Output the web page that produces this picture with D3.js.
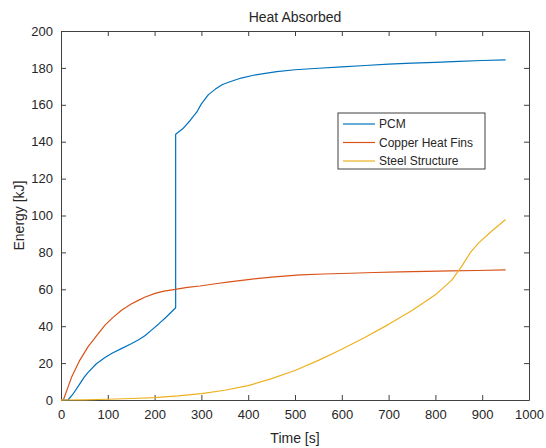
<!DOCTYPE html>
<html>
<head>
  <meta charset="UTF-8">
  <title>Heat Absorbed</title>
  <style>
    body { margin: 0; background: #fff; }
    svg { display: block; }
    text { font-family: "Liberation Sans", Arial, sans-serif; fill: #262626; }
  </style>
</head>
<body>
    <svg></svg>

    <script src="https://d3js.org/d3.v7.min.js"></script>

<script>

// data
let seriesNames = ["PCM", "Copper Heat Fins", "Steel Structure"];

let pcmTime = [0, 15, 25, 37, 50, 58, 75, 94, 110, 130, 150, 165, 180, 194, 210, 225, 245,
               245, 260, 276, 290, 300, 315, 330, 345, 361, 385, 411, 440, 461, 500, 550,
               600, 650, 700, 750, 800, 850, 900, 950];
let pcmEnergy = [0, 0, 3, 7.5, 12.5, 15, 19.5, 23, 25.5, 28, 30.5, 32.5, 35, 38, 41.5, 45, 50,
                 144, 147, 151.5, 156, 160.5, 165.5, 168.5, 171, 172.5, 174.5, 176, 177.2, 178, 179, 179.8,
                 180.6, 181.3, 182, 182.6, 183, 183.5, 184, 184.3];

let copperTime = [0, 5, 15, 23, 40, 58, 75, 94, 110, 130, 150, 165, 180, 201, 220, 244, 270,
                  297, 330, 360, 404, 450, 511, 560, 618, 670, 724, 780, 831, 890, 950];
let copperEnergy = [0, 0, 7, 12.6, 21.5, 28.9, 34.5, 40.6, 44.5, 48.8, 52, 54, 55.8, 57.8, 59, 60, 61,
                    61.8, 63, 64, 65.4, 66.6, 67.8, 68.3, 68.7, 69.1, 69.4, 69.7, 70, 70.2, 70.5];

let steelTime = [0, 50, 100, 150, 200, 250, 300, 350, 400, 450, 500, 550, 600, 650, 700, 750,
                 800, 835, 855, 875, 892, 920, 950];
let steelEnergy = [0, 0.1, 0.4, 0.8, 1.3, 2.2, 3.5, 5.3, 7.8, 11.6, 16, 21.5, 27.5, 34, 41, 48.5,
                   57, 65, 72, 80, 85, 91.5, 97.8];

let xTicks = [0, 100, 200, 300, 400, 500, 600, 700, 800, 900, 1000];
let yTicks = [0, 20, 40, 60, 80, 100, 120, 140, 160, 180, 200];

let width = 546,
    height = 448;

let margin = {top: 31, right: 17, bottom: 48, left: 61};

let svg = d3.select("svg")
    .attr("width", width)
    .attr("height", height);

let x = d3.scaleLinear()
    .domain([0, 1000])
    .range([margin.left, width - margin.right]);

let y = d3.scaleLinear()
    .domain([0, 200])
    .range([height - margin.bottom, margin.top]);

let colours = d3.scaleOrdinal()
    .domain(seriesNames)
    .range(["#0072BD", "#D95319", "#EDB120"]);

let series = [
    {name: seriesNames[0], values: pcmTime.map((t, i) => [t, pcmEnergy[i]])},
    {name: seriesNames[1], values: copperTime.map((t, i) => [t, copperEnergy[i]])},
    {name: seriesNames[2], values: steelTime.map((t, i) => [t, steelEnergy[i]])}
];

// axes, ticks point inward on all four sides
let axisColour = "#404040";

function styleAxis(g, showLabels) {
    g.select(".domain").attr("stroke", axisColour);
    g.selectAll(".tick line").attr("stroke", axisColour);
    g.selectAll(".tick text")
        .style("font-size", "13px")
        .attr("fill", "#333")
        .style("display", showLabels ? null : "none");
}

svg.append("g")
    .attr("transform", "translate(0," + y(0) + ")")
    .call(d3.axisBottom(x).tickValues(xTicks).tickFormat(d3.format("d"))
        .tickSizeInner(-5).tickSizeOuter(0).tickPadding(10))
    .call(g => styleAxis(g, true));

svg.append("g")
    .attr("transform", "translate(0," + y(200) + ")")
    .call(d3.axisTop(x).tickValues(xTicks).tickSizeInner(-5).tickSizeOuter(0))
    .call(g => styleAxis(g, false));

svg.append("g")
    .attr("transform", "translate(" + x(0) + ",0)")
    .call(d3.axisLeft(y).tickValues(yTicks).tickSizeInner(-5).tickSizeOuter(0).tickPadding(8))
    .call(g => styleAxis(g, true));

svg.append("g")
    .attr("transform", "translate(" + x(1000) + ",0)")
    .call(d3.axisRight(y).tickValues(yTicks).tickSizeInner(-5).tickSizeOuter(0))
    .call(g => styleAxis(g, false));

// lines
let line = d3.line()
    .x(d => x(d[0]))
    .y(d => y(d[1]));

svg.append("g")
    .selectAll("path")
    .data(series)
    .enter()
    .append("path")
    .attr("fill", "none")
    .attr("stroke", d => colours(d.name))
    .attr("stroke-width", 1.2)
    .attr("stroke-linejoin", "round")
    .attr("d", d => line(d.values));

// title and axis labels
svg.append("text")
    .attr("x", (x(0) + x(1000)) / 2)
    .attr("y", 22)
    .attr("text-anchor", "middle")
    .style("font-size", "14px")
    .text("Heat Absorbed");

svg.append("text")
    .attr("x", (x(0) + x(1000)) / 2)
    .attr("y", 443)
    .attr("text-anchor", "middle")
    .style("font-size", "14px")
    .text("Time [s]");

svg.append("text")
    .attr("transform", "translate(24," + (y(0) + y(200)) / 2 + ") rotate(-90)")
    .attr("text-anchor", "middle")
    .style("font-size", "14px")
    .text("Energy [kJ]");

// legend
let legend = svg.append("g")
    .attr("transform", "translate(338,113)");

legend.append("rect")
    .attr("width", 147)
    .attr("height", 56)
    .attr("fill", "#fff")
    .attr("stroke", axisColour)
    .attr("stroke-width", 1);

let item = legend.selectAll("g.item")
    .data(seriesNames)
    .enter().append("g")
    .attr("class", "item")
    .attr("transform", (d, i) => "translate(0," + (11 + i * 18.5) + ")");

item.append("line")
    .attr("x1", 5)
    .attr("x2", 37)
    .attr("stroke", d => colours(d))
    .attr("stroke-width", 1.2);

item.append("text")
    .attr("x", 41)
    .attr("dy", "0.35em")
    .style("font-size", "12px")
    .text(d => d);

</script>

</body>
</html>
